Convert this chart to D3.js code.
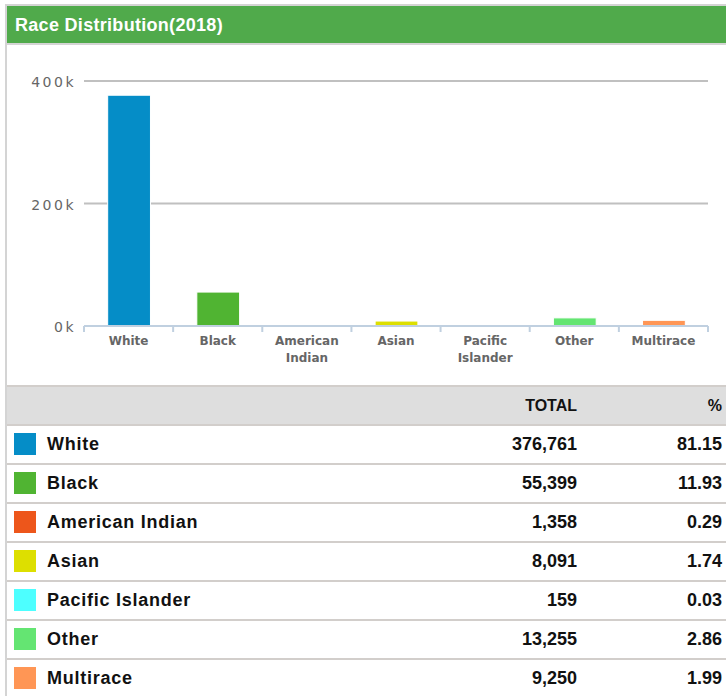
<!DOCTYPE html>
<html>
<head>
<meta charset="utf-8">
<script src="https://cdn.jsdelivr.net/npm/d3@7"></script>
<style>
  html, body { margin: 0; padding: 0; background: #fff; }
  svg { display: block; }
</style>
</head>
<body>
<svg id="chart" width="726" height="696"></svg>
<script>
const TITLE = 'Race Distribution(2018)';
const categories = ['White', 'Black', 'American Indian', 'Asian', 'Pacific Islander', 'Other', 'Multirace'];
const axisLabels = [['White'], ['Black'], ['American', 'Indian'], ['Asian'], ['Pacific', 'Islander'], ['Other'], ['Multirace']];
const totals = [376761, 55399, 1358, 8091, 159, 13255, 9250];
const percents = ['81.15', '11.93', '0.29', '1.74', '0.03', '2.86', '1.99'];
const colors = ['#058DC7', '#50B432', '#ED561B', '#DDDF00', '#4DFFFF', '#64E572', '#FF9655'];
const yTicks = [0, 200000, 400000];

const svg = d3.select('#chart');
const W = 726;

// frame + header
svg.append('rect').attr('x', 5).attr('y', 4).attr('width', W - 5).attr('height', 696 - 4).attr('fill', '#d4d4d4');
svg.append('rect').attr('x', 7).attr('y', 6).attr('width', W - 7).attr('height', 690).attr('fill', '#fff');
svg.append('rect').attr('x', 7).attr('y', 6).attr('width', W - 7).attr('height', 37).attr('fill', '#50AA4B');
svg.append('rect').attr('x', 7).attr('y', 43).attr('width', W - 7).attr('height', 2).attr('fill', '#d4d4d4');
svg.append('text')
  .attr('x', 15).attr('y', 31)
  .attr('fill', '#fff')
  .attr('font-family', 'Liberation Sans, Arial, sans-serif')
  .attr('font-weight', 700).attr('font-size', 18)
  .attr('letter-spacing', 0.3)
  .text(TITLE);

// chart
const x = d3.scaleBand().domain(categories).range([84, 708]).padding(0);
const y = d3.scaleLinear().domain([0, 400000]).range([326, 81]);
const barW = x.bandwidth() * 0.48;

const g = svg.append('g');

// gridlines
g.selectAll('.grid').data(yTicks.filter(d => d > 0)).join('line')
  .attr('x1', 84).attr('x2', 708)
  .attr('y1', d => y(d)).attr('y2', d => y(d))
  .attr('stroke', '#c0c0c0').attr('stroke-width', 2);

// y labels
g.selectAll('.ylab').data(yTicks).join('text')
  .attr('x', 76).attr('y', d => y(d) + 6)
  .attr('text-anchor', 'end')
  .attr('fill', '#666')
  .attr('font-family', 'DejaVu Sans, Verdana, sans-serif')
  .attr('font-size', 14)
  .attr('letter-spacing', 2.5)
  .text(d => `${d / 1000}k`);

// bars
g.selectAll('.bar').data(categories).join('rect')
  .attr('x', d => x(d) + (x.bandwidth() - barW) / 2 + 0.5)
  .attr('width', barW)
  .attr('y', (d, i) => y(totals[i]))
  .attr('height', (d, i) => y(0) - y(totals[i]))
  .attr('fill', (d, i) => colors[i])
  .attr('stroke', '#fff').attr('stroke-width', 1);

// x axis line and ticks
g.append('line')
  .attr('x1', 84).attr('x2', 708)
  .attr('y1', 326).attr('y2', 326)
  .attr('stroke', '#C0D0E0').attr('stroke-width', 2);
const bounds = categories.map(d => x(d)).concat([x.range()[1]]);
g.selectAll('.tick').data(bounds).join('line')
  .attr('x1', d => d).attr('x2', d => d)
  .attr('y1', 326).attr('y2', 332)
  .attr('stroke', '#C0D0E0').attr('stroke-width', 2);

// category labels
const lab = g.selectAll('.xlab').data(categories).join('text')
  .attr('text-anchor', 'middle')
  .attr('fill', '#666')
  .attr('font-family', 'DejaVu Sans, Verdana, sans-serif')
  .attr('font-weight', 700).attr('font-size', 12);
lab.each(function (d, i) {
  d3.select(this).selectAll('tspan').data(axisLabels[i]).join('tspan')
    .attr('x', x(d) + x.bandwidth() / 2)
    .attr('y', (t, j) => 345 + j * 17)
    .text(t => t);
});

// table
const rowH = 39;
const headTop = 386;
const tbl = svg.append('g');
tbl.append('rect').attr('x', 7).attr('y', headTop).attr('width', W - 7).attr('height', rowH).attr('fill', '#dedede');
const lines = d3.range(categories.length + 1).map(i => headTop + i * rowH);
tbl.selectAll('.rowline').data([headTop - 1].concat(lines.map(l => l + rowH - 1))).join('rect')
  .attr('x', 7).attr('y', d => d).attr('width', W - 7).attr('height', 2)
  .attr('fill', '#d2cecb');

const font = 'Liberation Sans, Arial, Helvetica, sans-serif';
tbl.append('text').attr('x', 577).attr('y', headTop + 25).attr('text-anchor', 'end')
  .attr('font-family', font).attr('font-weight', 700).attr('font-size', 16).attr('fill', '#111')
  .text('TOTAL');
tbl.append('text').attr('x', 722).attr('y', headTop + 25).attr('text-anchor', 'end')
  .attr('font-family', font).attr('font-weight', 700).attr('font-size', 16).attr('fill', '#111')
  .text('%');

const fmt = d3.format(',');
const rows = tbl.selectAll('.row').data(categories).join('g')
  .attr('transform', (d, i) => `translate(0,${headTop + rowH * (i + 1)})`);
rows.append('rect')
  .attr('x', 14).attr('y', 8).attr('width', 22).attr('height', 22)
  .attr('fill', (d, i) => colors[i]);
rows.append('text')
  .attr('x', 47).attr('y', 25)
  .attr('font-family', font).attr('font-weight', 700).attr('font-size', 18).attr('fill', '#111')
  .attr('letter-spacing', 0.75)
  .text(d => d);
rows.append('text')
  .attr('x', 577).attr('y', 25).attr('text-anchor', 'end')
  .attr('font-family', font).attr('font-weight', 700).attr('font-size', 18).attr('fill', '#111')
  .text((d, i) => fmt(totals[i]));
rows.append('text')
  .attr('x', 722).attr('y', 25).attr('text-anchor', 'end')
  .attr('font-family', font).attr('font-weight', 700).attr('font-size', 18).attr('fill', '#111')
  .text((d, i) => percents[i]);
</script>
</body>
</html>
